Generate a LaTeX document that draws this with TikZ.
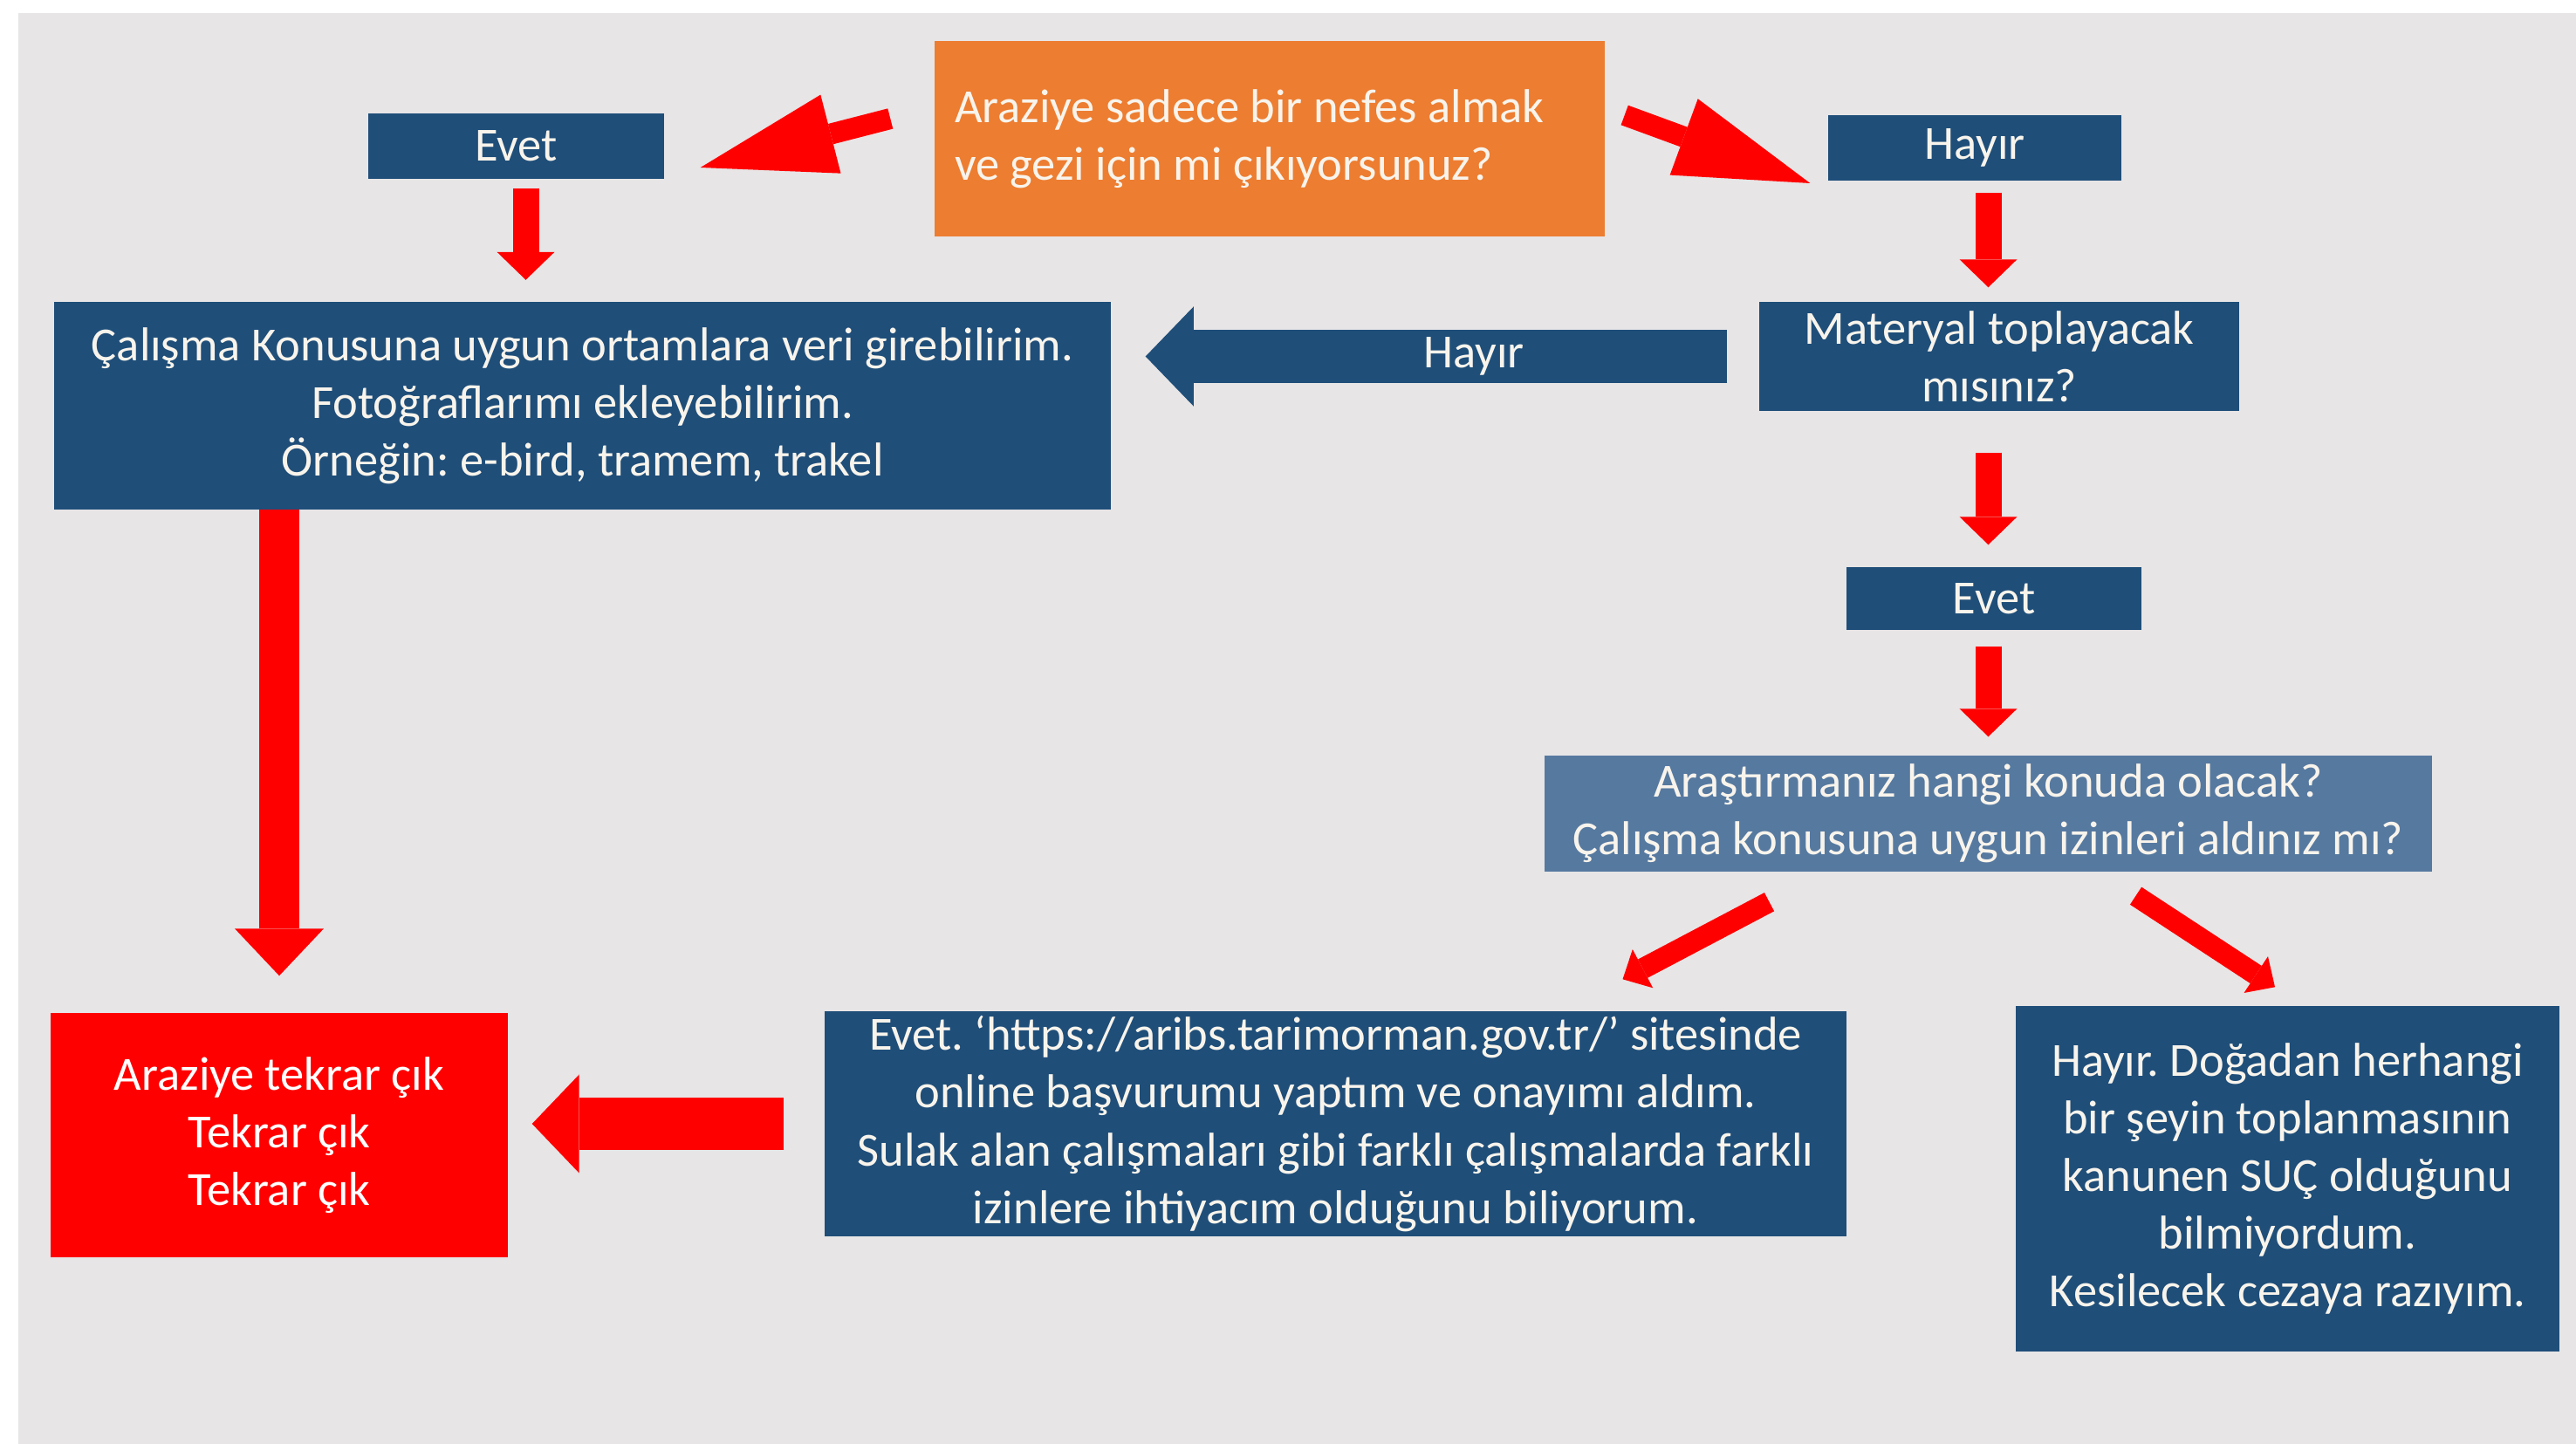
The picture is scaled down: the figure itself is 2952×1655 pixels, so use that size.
\documentclass[tikz,border=0pt]{standalone}
\usepackage{fontspec}
\setmainfont{Carlito}
\usetikzlibrary{arrows.meta}
\frenchspacing
\definecolor{boxblue}{HTML}{1F4E79}
\definecolor{paleblue}{HTML}{5679A0}
\definecolor{boxorange}{HTML}{ED7D31}
\definecolor{arrowred}{HTML}{FF0000}
\definecolor{slide}{HTML}{E7E5E6}
\definecolor{cream}{HTML}{F8F4EC}
\newlength\px
\setlength\px{0.01cm}

\begin{document}
\begin{tikzpicture}
    [x=0.01cm,y=-0.01cm,
     every node/.style={font=\fontsize{15.5}{18.8}\selectfont,text=cream,inner sep=0pt,align=center},
     flowbox/.style 2 args={fill=boxblue,minimum width=#1\px,minimum height=#2\px},
     redarrow/.style n args={3}{draw=arrowred,line width=#1mm,-{Triangle[width=#2mm,length=#3mm,line width=0pt]}},
     bluearrow/.style n args={3}{draw=boxblue,line width=#1mm,-{Triangle[width=#2mm,length=#3mm,line width=0pt]}}]
  \useasboundingbox (0,0) rectangle (2952,1655);
  \fill[white] (0,0) rectangle (2952,1655);
  \fill[slide] (21,15) rectangle (2952,1655);

  \node[fill=boxorange,minimum height=224\px,text width=722\px,inner xsep=23\px,align=flush left]
    (question) at (1455,159) {Araziye sadece bir nefes almak\\ve gezi için mi çıkıyorsunuz?};
  \node[flowbox={339}{75}] (evetL) at (591.5,167.5) {Evet};
  \node[flowbox={336}{75}] (hayirR) at (2263,169.5) {Hayır};
  \node[flowbox={1211}{237}] (info) at (667.5,465)
    {Çalışma Konusuna uygun ortamlara veri girebilirim.\\Fotoğraflarımı ekleyebilirim.\\Örneğin: e-bird, tramem, trakel};
  \node[flowbox={550}{125}] (materyal) at (2291,408.5) {Materyal toplayacak\\mısınız?};
  \node[flowbox={338}{72}] (evetR) at (2285,686) {Evet};
  \node[flowbox={1017}{133},fill=paleblue] (arastir) at (2278.5,932.5)
    {Araştırmanız hangi konuda olacak?\\Çalışma konusuna uygun izinleri aldınız mı?};
  \node[flowbox={1171}{258}] (evetLong) at (1530.5,1288)
    {Evet. ‘https://aribs.tarimorman.gov.tr/’ sitesinde\\online başvurumu yaptım ve onayımı aldım.\\Sulak alan çalışmaları gibi farklı çalışmalarda farklı\\izinlere ihtiyacım olduğunu biliyorum.};
  \node[flowbox={623}{396}] (hayirBox) at (2621.5,1351)
    {Hayır. Doğadan herhangi\\bir şeyin toplanmasının\\kanunen SUÇ olduğunu\\bilmiyordum.\\Kesilecek cezaya razıyım.};
  \node[flowbox={524}{280},fill=arrowred,text=white] (redbox) at (320,1301)
    {Araziye tekrar çık\\Tekrar çık\\Tekrar çık};

  \draw[redarrow={2.4}{9.3}{15.4}] ([shift={(-50,-23)}]question.west) -- ([shift={(41,24.5)}]evetL.east);
  \draw[redarrow={2.4}{9.3}{15.4}] ([shift={(22,-27)}]question.east) -- ([shift={(-20,40.5)}]hayirR.west);
  \draw[redarrow={3}{6.6}{3.2},shorten <=10\px,shorten >=25\px] ([xshift=11\px]evetL.south) -- ([xshift=11\px]evetL.south |- info.north);
  \draw[redarrow={3}{6.6}{3.2},shorten <=13\px,shorten >=16\px] (arastir.north |- hayirR.south) -- (arastir.north |- materyal.north);
  \draw[redarrow={3}{6.6}{3.2},shorten <=47\px,shorten >=25\px] (arastir.north |- materyal.south) -- (arastir.north |- evetR.north);
  \draw[redarrow={3}{6.6}{3.2},shorten <=18\px,shorten >=21\px] (arastir.north |- evetR.south) -- (arastir.north);
  \draw[bluearrow={6.1}{11.4}{5.5},shorten <=36\px,shorten >=39\px] (materyal.west) -- node[pos=0.44] {Hayır} (materyal.west -| info.east);
  \draw[redarrow={4.6}{10.2}{5.4},shorten >=42\px] (redbox.north |- info.south) -- (redbox.north);
  \draw[redarrow={2.4}{5}{2.6}] ([shift={(-251,34)}]arastir.south) -- ([shift={(329,-36)}]evetLong.north);
  \draw[redarrow={2.4}{5}{2.6}] ([shift={(169,27)}]arastir.south) -- ([shift={(-14.5,-21)}]hayirBox.north);
  \draw[redarrow={5.9}{11.3}{5.4},shorten <=46\px,shorten >=27\px] (evetLong.west) -- (evetLong.west -| redbox.east);
\end{tikzpicture}
\end{document}
